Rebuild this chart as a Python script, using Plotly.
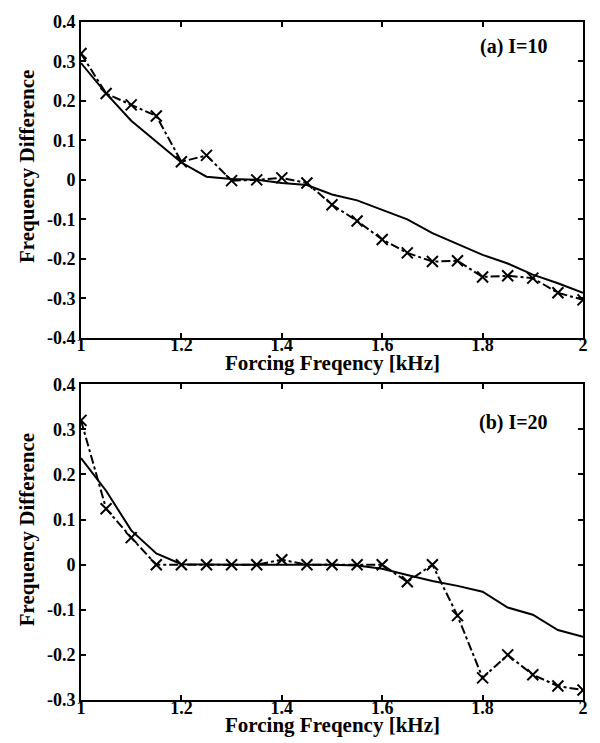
import plotly.graph_objects as go

freq = [1.0, 1.05, 1.1, 1.15, 1.2, 1.25, 1.3, 1.35, 1.4, 1.45, 1.5,
        1.55, 1.6, 1.65, 1.7, 1.75, 1.8, 1.85, 1.9, 1.95, 2.0]

# Panel (a) I=10
a_solid = [0.296, 0.219, 0.150, 0.098, 0.044, 0.008, 0.002, 0.0, -0.008, -0.013, -0.037,
           -0.052, -0.077, -0.100, -0.135, -0.162, -0.190, -0.212, -0.240, -0.262, -0.286]
a_marked = [0.320, 0.219, 0.190, 0.162, 0.046, 0.062, -0.002, 0.0, 0.005, -0.008, -0.063,
            -0.104, -0.151, -0.185, -0.207, -0.205, -0.246, -0.243, -0.249, -0.286, -0.304]

# Panel (b) I=20
b_solid = [0.236, 0.164, 0.076, 0.025, 0.001, 0.0, 0.0, 0.0, 0.0, 0.0, 0.0,
           -0.002, -0.009, -0.023, -0.036, -0.047, -0.060, -0.095, -0.111, -0.145, -0.160]
b_marked = [0.320, 0.124, 0.060, 0.0, 0.0, 0.0, 0.0, 0.0, 0.011, 0.0, 0.0,
            0.0, 0.0, -0.038, 0.0, -0.113, -0.251, -0.200, -0.244, -0.269, -0.278]

x_ticks = [1.0, 1.2, 1.4, 1.6, 1.8, 2.0]
x_ticklabels = ["1", "1.2", "1.4", "1.6", "1.8", "2"]
ya_ticks = [0.4, 0.3, 0.2, 0.1, 0.0, -0.1, -0.2, -0.3, -0.4]
ya_ticklabels = ["0.4", "0.3", "0.2", "0.1", "0", "-0.1", "-0.2", "-0.3", "-0.4"]
yb_ticks = [0.4, 0.3, 0.2, 0.1, 0.0, -0.1, -0.2, -0.3]
yb_ticklabels = ["0.4", "0.3", "0.2", "0.1", "0", "-0.1", "-0.2", "-0.3"]

x_title = "Forcing Freqency [kHz]"
y_title = "Frequency Difference"
panel_labels = ["(a) I=10", "(b) I=20"]

FONT = "Liberation Serif"
W, H = 600, 743
ML, MR, MT, MB = 81, 12, 15, 43
PW = W - ML - MR
PH = H - MT - MB


def px(x):
    return (x - ML) / PW


def py(y):
    return (H - MB - y) / PH


fig = go.Figure()

line_kw = dict(color="black", width=2)
for (sol, mark, xa, ya) in [(a_solid, a_marked, "x", "y"), (b_solid, b_marked, "x2", "y2")]:
    fig.add_trace(go.Scatter(x=freq, y=sol, mode="lines", line=line_kw,
                             xaxis=xa, yaxis=ya, showlegend=False))
    fig.add_trace(go.Scatter(x=freq, y=mark, mode="lines+markers",
                             line=dict(color="black", width=2, dash="dashdot"),
                             marker=dict(symbol="x-thin-open", size=11,
                                         line=dict(color="black", width=2)),
                             xaxis=xa, yaxis=ya, showlegend=False))

tickfont = dict(family=FONT, size=18, color="black", weight="bold")
axis_common = dict(showgrid=False, zeroline=False, showline=True, linecolor="black",
                   linewidth=2, mirror="ticks", ticks="inside", ticklen=5, tickwidth=1.5,
                   tickcolor="black", tickfont=tickfont)

top_dom = [py(334), 1.0]
bot_dom = [0.0, py(381)]

fig.update_layout(
    width=W, height=H,
    margin=dict(l=ML, r=MR, t=MT, b=MB),
    plot_bgcolor="white", paper_bgcolor="white",
    xaxis=dict(domain=[0, 1], range=[1, 2], tickvals=x_ticks, ticktext=x_ticklabels,
               anchor="y", ticklabelstandoff=-10, **axis_common),
    yaxis=dict(domain=top_dom, range=[-0.4, 0.4], tickvals=ya_ticks, ticktext=ya_ticklabels,
               anchor="x", **axis_common),
    xaxis2=dict(domain=[0, 1], range=[1, 2], tickvals=x_ticks, ticktext=x_ticklabels,
                anchor="y2", ticklabelstandoff=-10, **axis_common),
    yaxis2=dict(domain=bot_dom, range=[-0.3, 0.4], tickvals=yb_ticks, ticktext=yb_ticklabels,
                anchor="x2", **axis_common),
)

title_font = dict(family=FONT, size=21, color="black", weight="bold")
ann = []
for xt_y, yt_y, lab, lab_y in [(360, 161, panel_labels[0], 40), (725, 528, panel_labels[1], 420)]:
    ann.append(dict(text=x_title, xref="paper", yref="paper", x=px(334.5), y=py(xt_y),
                    xanchor="center", yanchor="middle", showarrow=False, font=title_font))
    ann.append(dict(text=y_title, xref="paper", yref="paper", x=px(26), y=py(yt_y),
                    xanchor="center", yanchor="middle", textangle=-90, showarrow=False,
                    font=title_font))
    ann.append(dict(text=lab, xref="paper", yref="paper", x=px(518), y=py(lab_y),
                    xanchor="center", yanchor="middle", showarrow=False,
                    font=dict(family=FONT, size=20, color="black", weight="bold")))
fig.update_layout(annotations=ann)

fig.write_html("out.html", config={"displayModeBar": False},
               post_script="document.body.style.margin='0';")
